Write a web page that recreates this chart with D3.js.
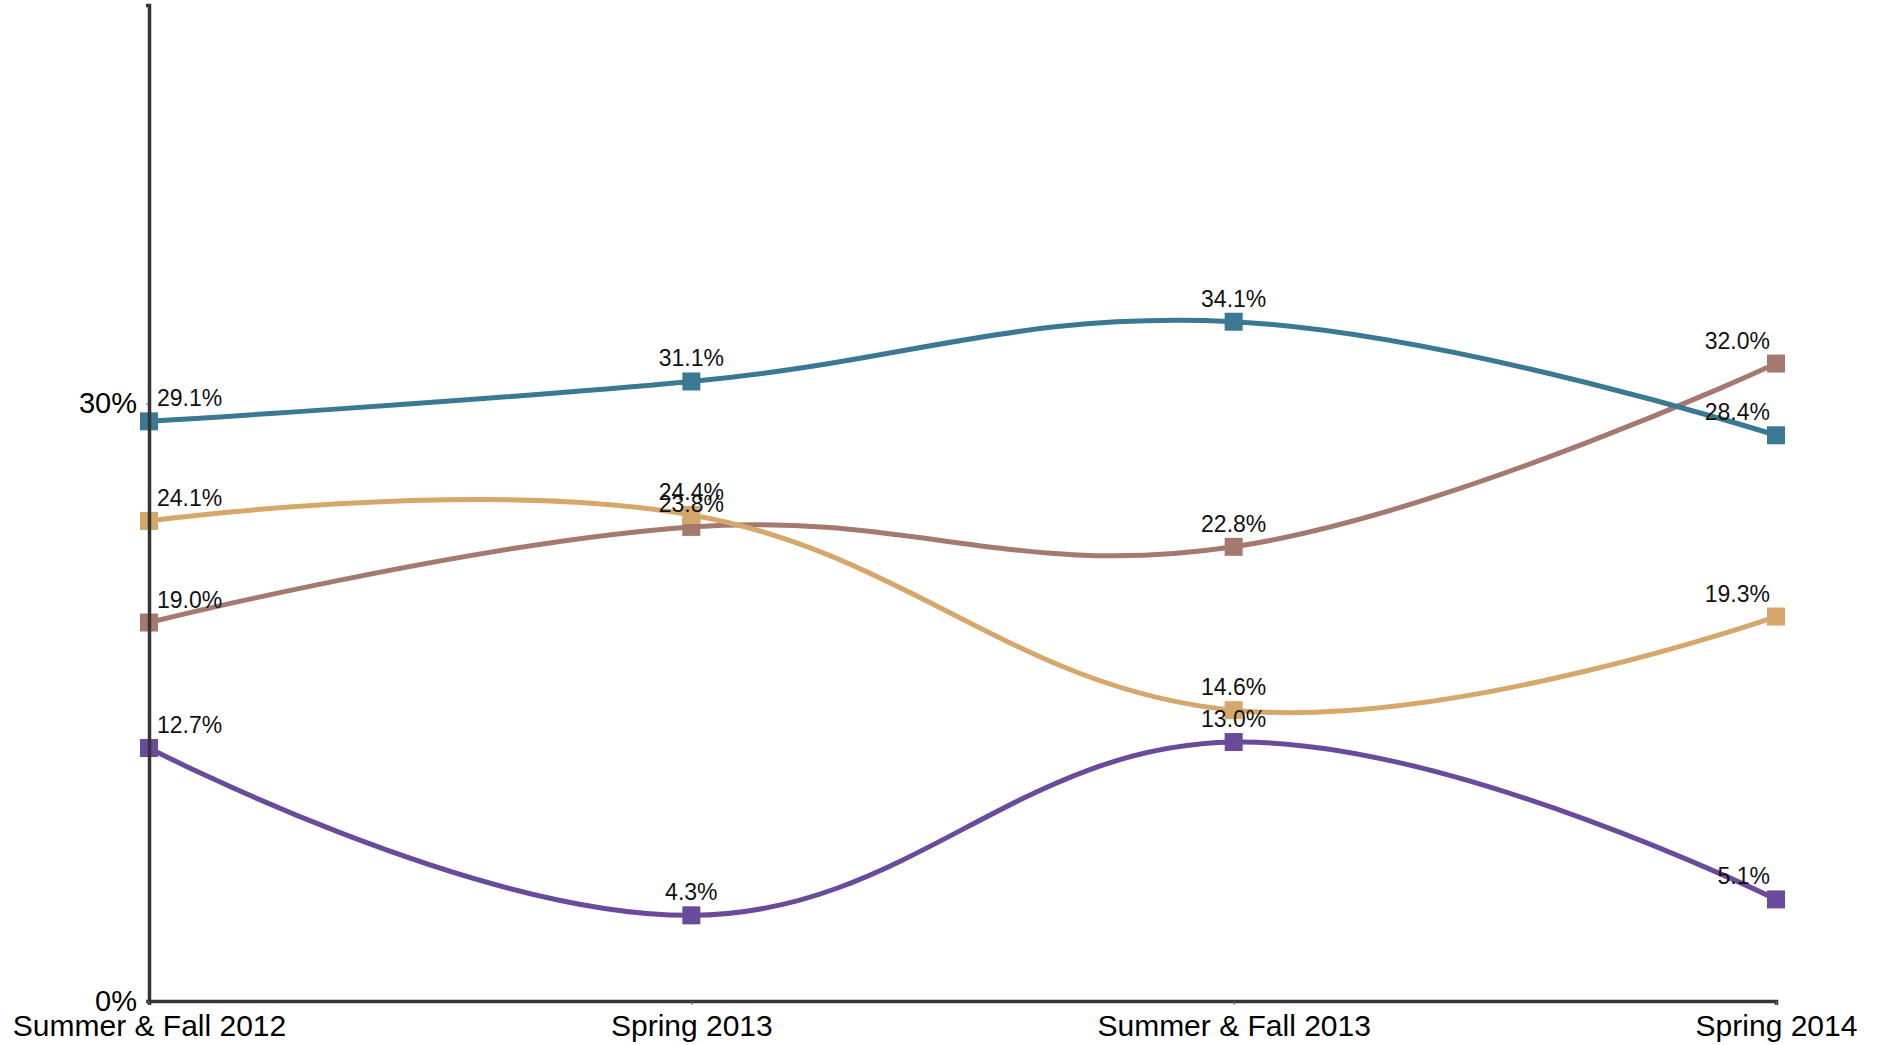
<!DOCTYPE html>
<html>
<head>
<meta charset="utf-8">
<script src="https://cdn.jsdelivr.net/npm/d3@7"></script>
<style>
  html, body { margin: 0; padding: 0; background: #fff; }
  svg { display: block; font-family: "Liberation Sans", Arial, sans-serif; }
</style>
</head>
<body>
<script>
const categories = ["Summer & Fall 2012", "Spring 2013", "Summer & Fall 2013", "Spring 2014"];
const seriesNames = ["Brown", "Teal", "Tan", "Purple"];
const brownValues  = [19.0, 23.8, 22.8, 32.0];
const tealValues   = [29.1, 31.1, 34.1, 28.4];
const tanValues    = [24.1, 24.4, 14.6, 19.3];
const purpleValues = [12.7, 4.3, 13.0, 5.1];
const seriesColors = ["#a47a70", "#3b7891", "#d6a76a", "#6a4a9b"];
const yTickValues = [0, 30];
const yDomain = [0, 50];

const series = [brownValues, tealValues, tanValues, purpleValues].map((vals, i) => ({
  name: seriesNames[i], color: seriesColors[i], values: vals
}));

// Spline curve: control points at 1/2.5 of the neighbour distance,
// tangent through neighbours, end points used as their own control.
function SplineCurve(context) { this._context = context; }
SplineCurve.prototype = {
  areaStart() {}, areaEnd() {},
  lineStart() { this._pts = []; },
  point(x, y) { this._pts.push([+x, +y]); },
  lineEnd() {
    const p = this._pts, n = p.length, c = this._context, s = 1.5;
    if (!n) return;
    const left = [], right = [];
    for (let j = 0; j < n; j++) {
      if (j === 0 || j === n - 1) { left[j] = p[j]; right[j] = p[j]; continue; }
      const [x, y] = p[j], [x0, y0] = p[j - 1], [x2, y2] = p[j + 1];
      let lx = (s * x + x0) / (s + 1), ly = (s * y + y0) / (s + 1);
      let rx = (s * x + x2) / (s + 1), ry = (s * y + y2) / (s + 1);
      if (rx !== lx) {
        const corr = ((ry - ly) * (rx - x)) / (rx - lx) + y - ry;
        ly += corr; ry += corr;
      }
      left[j] = [lx, ly]; right[j] = [rx, ry];
    }
    c.moveTo(p[0][0], p[0][1]);
    for (let i = 1; i < n; i++) {
      c.bezierCurveTo(right[i - 1][0], right[i - 1][1], left[i][0], left[i][1], p[i][0], p[i][1]);
    }
  }
};
const curveSpline = ctx => new SplineCurve(ctx);

const W = 1885, H = 1045;
const svg = d3.select("body").append("svg").attr("width", W).attr("height", H);
svg.append("rect").attr("width", W).attr("height", H).attr("fill", "#fff");

const x = d3.scalePoint().domain(categories).range([149, 1776]);
const y = d3.scaleLinear().domain(yDomain).range([1001, 5]);

const line = d3.line()
  .x((d, i) => x(categories[i]))
  .y(d => y(d))
  .curve(curveSpline);

const gSeries = svg.append("g");
series.forEach(s => {
  const g = gSeries.append("g");
  g.append("path").attr("d", line(s.values))
    .attr("fill", "none").attr("stroke", s.color).attr("stroke-width", 5);
  g.selectAll("rect").data(s.values).join("rect")
    .attr("x", (d, i) => x(categories[i]) - 9)
    .attr("y", d => y(d) - 9)
    .attr("width", 18).attr("height", 18)
    .attr("fill", s.color);
});

// labels
const gLabels = svg.append("g");
series.forEach(s => {
  gLabels.selectAll(null).data(s.values).join("text")
    .attr("x", (d, i) => x(categories[i]) + (i === 0 ? 8 : i === categories.length - 1 ? -6 : 0))
    .attr("y", d => y(d) - 15)
    .attr("text-anchor", (d, i) => i === 0 ? "start" : i === categories.length - 1 ? "end" : "middle")
    .attr("font-size", 23)
    .attr("fill", "#111")
    .text(d => d.toFixed(1) + "%");
});

// axes
const xAxis = svg.append("g").attr("transform", `translate(0,${y(0)})`)
  .call(d3.axisBottom(x).tickSize(4).tickPadding(10));
xAxis.select(".domain").attr("stroke", "#353535").attr("stroke-width", 3.5);
xAxis.selectAll(".tick line").attr("stroke", "#666");
xAxis.selectAll(".tick text").attr("font-size", 30).attr("fill", "#000")
  .attr("font-family", "'Liberation Sans', Arial, sans-serif");

const yAxis = svg.append("g").attr("transform", `translate(${x(categories[0])},0)`)
  .call(d3.axisLeft(y).tickValues(yTickValues).tickSize(3).tickPadding(9)
    .tickFormat(d => d + "%"));
yAxis.select(".domain").attr("stroke", "#353535").attr("stroke-width", 3.5);
yAxis.selectAll(".tick line").attr("stroke", "#666");
yAxis.selectAll(".tick text").attr("font-size", 29).attr("fill", "#000")
  .attr("font-family", "'Liberation Sans', Arial, sans-serif");
</script>
</body>
</html>
